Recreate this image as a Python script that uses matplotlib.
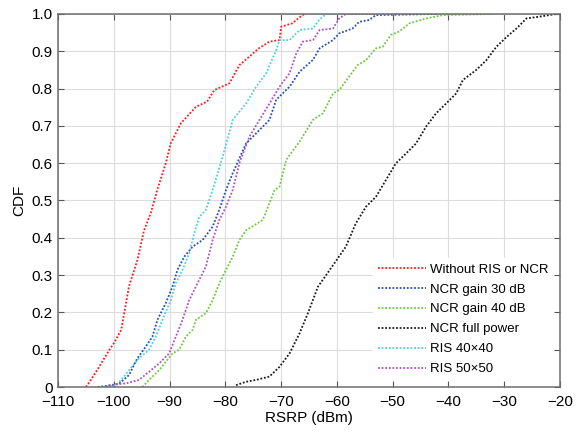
import matplotlib
matplotlib.use("Agg")
import matplotlib.pyplot as plt

plt.rcParams['font.family'] = ['Liberation Sans', 'DejaVu Sans']

# Data (RSRP in dBm, CDF)
red_x = [-105.0, -103.2, -100.8, -99.9, -98.7, -97.3, -95.8, -94.6, -93.4, -92.2, -90.7, -89.8,
         -88.0, -85.3, -83.3, -82.0, -79.3, -77.5, -73.9, -72.1, -70.3, -70.0, -68.0, -66.2, -65.5]
red_y = [0.0, 0.041, 0.10, 0.12, 0.153, 0.27, 0.34, 0.42, 0.466, 0.53, 0.60, 0.654,
         0.707, 0.751, 0.765, 0.796, 0.814, 0.863, 0.909, 0.926, 0.93, 0.966, 0.975, 0.997, 1.0]

blue_x = [-102.9, -100.3, -99.0, -97.3, -95.8, -94.3, -93.1, -92.2, -90.7, -89.5, -88.6, -87.4,
          -85.9, -84.1, -82.3, -81.1, -79.9, -78.7, -76.3, -73.9, -72.1, -70.9, -68.5, -66.7,
          -64.3, -63.1, -60.7, -59.6, -57.2, -56.0, -54.2, -53.0, -42.2]
blue_y = [0.0, 0.005, 0.01, 0.032, 0.077, 0.108, 0.135, 0.18, 0.225, 0.269, 0.314, 0.349,
          0.376, 0.394, 0.43, 0.475, 0.528, 0.573, 0.653, 0.689, 0.716, 0.77, 0.805, 0.845,
          0.877, 0.908, 0.93, 0.948, 0.961, 0.979, 0.984, 0.997, 1.0]

green_x = [-94.9, -93.7, -91.9, -89.5, -88.3, -87.1, -85.9, -85.3, -83.5, -82.3, -81.1, -79.9,
           -78.7, -77.5, -76.3, -73.3, -72.1, -71.2, -70.3, -69.1, -66.7, -64.3, -62.5, -60.7,
           -59.6, -57.8, -56.3, -54.8, -53.0, -51.8, -50.3, -48.8, -47.0, -44.0, -41.0, -32.1]
green_y = [0.0, 0.019, 0.045, 0.09, 0.10, 0.135, 0.153, 0.18, 0.198, 0.233, 0.278, 0.314,
           0.349, 0.394, 0.42, 0.448, 0.493, 0.528, 0.537, 0.609, 0.658, 0.716, 0.734, 0.787,
           0.796, 0.832, 0.863, 0.876, 0.908, 0.912, 0.944, 0.953, 0.975, 0.988, 0.997, 1.0]

black_x = [-78.1, -76.3, -74.5, -72.1, -70.3, -68.5, -66.7, -65.2, -63.4, -61.0, -58.4, -56.6,
           -54.8, -53.0, -51.2, -49.4, -47.6, -45.8, -44.0, -42.2, -40.4, -38.6, -37.4, -35.0,
           -33.2, -31.4, -29.6, -27.8, -26.0, -23.6, -20.6]
black_y = [0.005, 0.014, 0.019, 0.028, 0.054, 0.09, 0.144, 0.198, 0.269, 0.32, 0.376, 0.439,
           0.483, 0.51, 0.555, 0.60, 0.626, 0.653, 0.698, 0.734, 0.76, 0.787, 0.823, 0.85,
           0.876, 0.912, 0.938, 0.961, 0.988, 0.993, 1.0]

cyan_x = [-102.0, -99.6, -98.2, -97.3, -95.5, -93.7, -92.5, -91.3, -89.8, -88.9, -87.7, -86.5,
          -85.6, -84.7, -83.5, -82.3, -80.5, -78.7, -76.3, -74.5, -72.7, -70.9, -70.3, -68.5,
          -66.7, -64.3, -63.1, -61.9, -50.6]
cyan_y = [0.0, 0.005, 0.028, 0.045, 0.077, 0.10, 0.135, 0.18, 0.233, 0.278, 0.314, 0.358,
          0.412, 0.456, 0.475, 0.528, 0.617, 0.716, 0.76, 0.805, 0.841, 0.903, 0.93, 0.93,
          0.957, 0.961, 0.986, 1.0, 1.0]

purple_x = [-101.5, -100.8, -97.8, -95.5, -93.7, -91.9, -90.1, -88.9, -87.7, -86.5, -84.7, -83.5,
            -82.3, -81.1, -79.9, -78.7, -77.5, -75.7, -73.9, -72.1, -70.3, -68.5, -67.3, -66.1,
            -64.3, -63.1, -60.7, -59.6, -58.4, -50.6]
purple_y = [0.0, 0.005, 0.01, 0.019, 0.041, 0.063, 0.09, 0.135, 0.18, 0.233, 0.287, 0.323,
            0.394, 0.448, 0.483, 0.528, 0.60, 0.671, 0.716, 0.76, 0.805, 0.841, 0.894, 0.926,
            0.93, 0.957, 0.961, 0.988, 1.0, 1.0]

labels = ['Without RIS or NCR', 'NCR gain 30 dB', 'NCR gain 40 dB', 'NCR full power',
          'RIS 40×40', 'RIS 50×50']
xticks = [-110, -100, -90, -80, -70, -60, -50, -40, -30, -20]
yticks = [0, 0.1, 0.2, 0.3, 0.4, 0.5, 0.6, 0.7, 0.8, 0.9, 1.0]
yticklabels = ['0', '0.1', '0.2', '0.3', '0.4', '0.5', '0.6', '0.7', '0.8', '0.9', '1.0']

series = [(red_x, red_y, '#ff1a1a'), (blue_x, blue_y, '#1f4fb8'), (green_x, green_y, '#6cc83a'),
          (black_x, black_y, '#1a1a1a'), (cyan_x, cyan_y, '#4fcfdc'), (purple_x, purple_y, '#b050c0')]

fig = plt.figure(figsize=(5.79, 4.37), dpi=100)
ax = fig.add_axes([0.1005, 0.1144, 0.8665, 0.8536])

for (x, y, c), lab in zip(series, labels):
    ax.plot(x, y, color=c, linestyle=(0, (1, 1)), linewidth=1.3, label=lab)

ax.set_xlim(-110, -20)
ax.set_ylim(0, 1)
ax.set_xticks(xticks)
ax.set_yticks(yticks)
ax.set_yticklabels(yticklabels)
ax.grid(True, color='#dcdcdc', linewidth=0.8)
ax.set_axisbelow(True)
ax.tick_params(direction='in', top=True, right=True, length=4, labelsize=11, color='#555555')
ax.tick_params(axis='x', pad=6)
ax.tick_params(axis='y', pad=4)
for s in ax.spines.values():
    s.set_color('#6e6e6e')
    s.set_linewidth(1.1)
ax.set_xlabel('RSRP (dBm)', fontsize=11, labelpad=1)
ax.set_ylabel('CDF', fontsize=11, labelpad=4)

leg = ax.legend(loc='lower right', fontsize=9.5, frameon=True, handlelength=3.6,
                handletextpad=0.3, labelspacing=0.58, borderaxespad=0.5)
leg.get_frame().set_edgecolor('white')
leg.get_frame().set_facecolor('white')
leg.get_frame().set_alpha(1.0)

fig.savefig('out.png', dpi=100)
